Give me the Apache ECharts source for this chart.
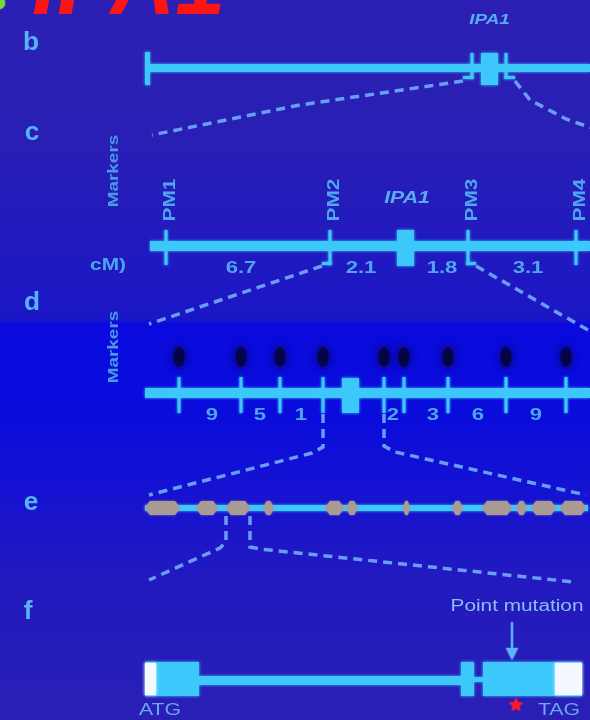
<!DOCTYPE html>
<html><head><meta charset="utf-8">
<script src="https://cdn.jsdelivr.net/npm/echarts@6/dist/echarts.min.js"></script>
<style>html,body{margin:0;padding:0;background:#2a1fb4}#c{width:590px;height:720px}</style>
</head><body><div id="c"></div><script>
// ---------------- data (diagram units along each map) ----------------
const panelLetters = ['b', 'c', 'd', 'e', 'f'];
const panelLetterPos = [[31, 43], [32, 133], [32, 303], [31, 503], [28, 612]];
// b: chromosome
const chromSpan = [147, 590];
const bFlankTicks = [472, 506];
const ipa1SpanB = [481, 498];
// c: fine map
const cMarkers = ['PM1', 'PM2', 'PM3', 'PM4'];
const cMarkerPos = [166, 330, 468, 576];
const cDistances = ['6.7', '2.1', '1.8', '3.1'];
const cDistancePos = [241, 361, 442, 528];
const ipa1SpanC = [397, 414];
// d: high resolution map
const dMarkerPos = [179, 241, 280, 323, 384, 404, 448, 506, 566];
const dDistances = ['9', '5', '1', '2', '3', '6', '9'];
const dDistancePos = [212, 260, 301, 393, 433, 478, 536];
const ipa1SpanD = [342, 359];
// e: candidate region exons
const eExons = [[145, 180], [196, 218], [226, 250], [263, 274], [325, 344], [346, 358], [403, 410], [452, 463], [482, 512], [516, 527], [531, 556], [560, 586]];
// f: gene structure
const fExons = [[145, 199], [461, 474], [483, 582]];
const fUTRs = [[145, 156], [555, 582]];
const mutationPos = 514;

// ---------------- styles ----------------
const CYAN = '#3cc8fa';
const LABEL = '#4ea6ee';
const LETTER = '#58b2f6';
const DASH = '#6a9ef6';
const DASHW = 3.5;
const DASHP = [9, 6];
const FONT = '"Liberation Sans", Arial, sans-serif';

// ---------------- shape list ----------------
const shapes = [];
const rect = (x1, y1, x2, y2, fill) => shapes.push({t: 'rect', p: [[x1, y1], [x2, y2]], fill});
const pline = (pts, stroke, w, dash) => shapes.push({t: 'line', p: pts, stroke, w, dash});
const pgon = (pts, fill, blur) => shapes.push({t: 'poly', p: pts, fill, blur});
const ell = (cx, cy, rx, ry, fill, blur, op) => shapes.push({t: 'ell', p: [[cx, cy]], rx, ry, fill, blur, op});
const txt = (x, y, s, o) => shapes.push(Object.assign({t: 'text', p: [[x, y]], s}, o));

// title fragment (cut off at top) and green dot
txt(32, -11, 'IPA1', {font: 'italic bold 90px ' + FONT, fill: '#ff1414', align: 'left', blur: 4});
ell(-1, 3, 6, 6, '#7cd640', 2, 1);

// panel letters
panelLetters.forEach((l, i) => txt(panelLetterPos[i][0], panelLetterPos[i][1], l, {font: 'bold 25px ' + FONT, fill: LETTER, sx: 1.05}));

// ---- b ----
rect(chromSpan[0], 64, chromSpan[1], 72, CYAN);
rect(chromSpan[0] - 2, 52, chromSpan[0] + 3, 85, CYAN);
rect(bFlankTicks[0] - 1.5, 53, bFlankTicks[0] + 1.5, 79, CYAN);
rect(bFlankTicks[0] - 9, 76, bFlankTicks[0] + 1.5, 79, CYAN);
rect(bFlankTicks[1] - 1.5, 53, bFlankTicks[1] + 1.5, 79, CYAN);
rect(bFlankTicks[1] - 1.5, 76, bFlankTicks[1] + 9, 79, CYAN);
rect(ipa1SpanB[0], 53, ipa1SpanB[1], 85, CYAN);
txt((ipa1SpanB[0] + ipa1SpanB[1]) / 2, 20, 'IPA1', {font: 'italic bold 14px ' + FONT, fill: '#5aaaf0', sx: 1.35});
// b -> c zoom lines
pline([[bFlankTicks[0] - 9, 81], [300, 105], [152, 135]], DASH, DASHW, DASHP);
pline([[bFlankTicks[1] + 9, 81], [530, 100], [566, 119], [592, 128]], DASH, DASHW, DASHP);

// ---- c ----
txt(114, 171, 'Markers', {font: 'bold 14px ' + FONT, fill: '#4a98e6', rot: Math.PI / 2, sx: 1.35});
rect(150, 241, 590, 251, CYAN);
cMarkerPos.forEach((x, i) => {
  rect(x - 1.5, 230, x + 1.5, 265, CYAN);
  txt(x + 5, 200, cMarkers[i], {font: 'bold 16px ' + FONT, fill: LABEL, rot: Math.PI / 2, sx: 1.3});
});
rect(cMarkerPos[1] - 8, 262, cMarkerPos[1] + 1.5, 265, CYAN);
rect(cMarkerPos[2] - 1.5, 262, cMarkerPos[2] + 8, 265, CYAN);
rect(ipa1SpanC[0], 230, ipa1SpanC[1], 266, CYAN);
txt(407, 198, 'IPA1', {font: 'italic bold 17px ' + FONT, fill: '#5aaaf0', sx: 1.25});
txt(108, 266, 'cM)', {font: 'bold 16px ' + FONT, fill: LABEL, sx: 1.3});
cDistances.forEach((d, i) => txt(cDistancePos[i], 268, d, {font: 'bold 17px ' + FONT, fill: LABEL, sx: 1.3}));
// c -> d
pline([[cMarkerPos[1] - 8, 266], [149, 324]], DASH, DASHW, DASHP);
pline([[cMarkerPos[2] + 8, 266], [588, 330]], DASH, DASHW, DASHP);

// ---- d ----
txt(114, 347, 'Markers', {font: 'bold 14px ' + FONT, fill: '#4a98e6', rot: Math.PI / 2, sx: 1.35});
dMarkerPos.forEach(x => ell(x, 357, 5.5, 10, '#05053a', 8, 0.85));
rect(145, 388, 590, 398, CYAN);
dMarkerPos.forEach(x => rect(x - 1.5, 377, x + 1.5, 413, CYAN));
rect(ipa1SpanD[0], 378, ipa1SpanD[1], 413, CYAN);
dDistances.forEach((d, i) => txt(dDistancePos[i], 415, d, {font: 'bold 17px ' + FONT, fill: LABEL, sx: 1.3}));
// d -> e
pline([[dMarkerPos[3], 414], [dMarkerPos[3], 447], [dMarkerPos[3] - 11, 453], [149, 495]], DASH, DASHW, DASHP);
pline([[dMarkerPos[4], 414], [dMarkerPos[4], 446], [dMarkerPos[4] + 11, 452], [586, 495]], DASH, DASHW, DASHP);

// ---- e ----
rect(145, 505, 588, 511, CYAN);
eExons.forEach(([a, b]) => {
  const tip = Math.min(5, (b - a) / 3);
  pgon([[a, 508], [a + tip, 501], [b - tip, 501], [b, 508], [b - tip, 515], [a + tip, 515]], '#a99a94');
});
// e -> f
pline([[226, 516], [226, 542], [220, 548], [149, 580]], DASH, DASHW, DASHP);
pline([[250, 516], [250, 547], [260, 549], [574, 582]], DASH, DASHW, DASHP);

// ---- f ----
txt(517, 607, 'Point mutation', {font: '16px ' + FONT, fill: '#8cbef2', sx: 1.3});
pline([[mutationPos - 2, 622], [mutationPos - 2, 650]], '#5ab4f8', 2.5);
pgon([[mutationPos - 8, 648], [mutationPos + 4, 648], [mutationPos - 2, 660]], '#5ab4f8');
rect(fExons[0][1], 676, fExons[1][0], 685, CYAN);
rect(fExons[1][1], 677, fExons[2][0], 682, CYAN);
fExons.forEach(([a, b]) => rect(a, 662, b, 696, CYAN));
fUTRs.forEach(([a, b]) => rect(a, 663, b, 695, '#f4f8ff'));
// red star
(function () {
  const cx = 516, cy = 705, R = 7.5, r = 3.2, pts = [];
  for (let k = 0; k < 10; k++) {
    const ang = -Math.PI / 2 + k * Math.PI / 5, rr = k % 2 ? r : R;
    pts.push([cx + rr * Math.cos(ang), cy + rr * Math.sin(ang)]);
  }
  pgon(pts, '#ff1830');
})();
txt(160, 710, 'ATG', {font: '17px ' + FONT, fill: '#6aa8f0', sx: 1.25});
txt(559, 710, 'TAG', {font: '17px ' + FONT, fill: '#6aa8f0', sx: 1.25});

// ---------------- chart ----------------
function renderItem(params, api) {
  const s = shapes[params.dataIndex];
  const pts = s.p.map(q => api.coord(q));
  if (s.t === 'rect') {
    const x = Math.min(pts[0][0], pts[1][0]), y = Math.min(pts[0][1], pts[1][1]);
    return {type: 'rect', shape: {x, y, width: Math.abs(pts[1][0] - pts[0][0]), height: Math.abs(pts[1][1] - pts[0][1])},
      style: {fill: s.fill, shadowBlur: 3, shadowColor: s.fill}};
  }
  if (s.t === 'line') {
    return {type: 'polyline', shape: {points: pts}, style: {stroke: s.stroke, lineWidth: s.w, lineDash: s.dash || null, fill: null}};
  }
  if (s.t === 'poly') {
    return {type: 'polygon', shape: {points: pts}, style: {fill: s.fill, shadowBlur: 2, shadowColor: s.fill}};
  }
  if (s.t === 'ell') {
    return {type: 'ellipse', shape: {cx: pts[0][0], cy: pts[0][1], rx: s.rx, ry: s.ry},
      style: {fill: s.fill, opacity: s.op, shadowBlur: s.blur, shadowColor: s.fill}};
  }
  if (s.t === 'text') {
    return {type: 'text', x: pts[0][0], y: pts[0][1], rotation: s.rot || 0, scaleX: s.sx || 1, scaleY: 1,
      style: {text: s.s, x: 0, y: 0, fill: s.fill, font: s.font, align: s.align || 'center', verticalAlign: 'middle',
        shadowBlur: s.blur || 0, shadowColor: s.fill}};
  }
}

const chart = echarts.init(document.getElementById('c'), null, {renderer: 'canvas'});
chart.setOption({
  animation: false,
  backgroundColor: {type: 'linear', x: 0, y: 0, x2: 0, y2: 1, colorStops: [
    {offset: 0, color: '#2b20b3'}, {offset: 0.18, color: '#2a1fb4'}, {offset: 0.36, color: '#2019c0'},
    {offset: 0.443, color: '#1a17c6'}, {offset: 0.45, color: '#0a0ade'}, {offset: 0.58, color: '#0a0cdc'},
    {offset: 0.68, color: '#1512d2'}, {offset: 0.8, color: '#2219c0'}, {offset: 1, color: '#2a1fb5'}]},
  grid: {left: 0, right: 0, top: 0, bottom: 0},
  xAxis: {type: 'value', min: 0, max: 590, show: false},
  yAxis: {type: 'value', min: 0, max: 720, inverse: true, show: false},
  series: [{type: 'custom', coordinateSystem: 'cartesian2d', renderItem, clip: false, silent: true,
    data: shapes.map(s => s.p[0])}]
});
</script></body></html>
